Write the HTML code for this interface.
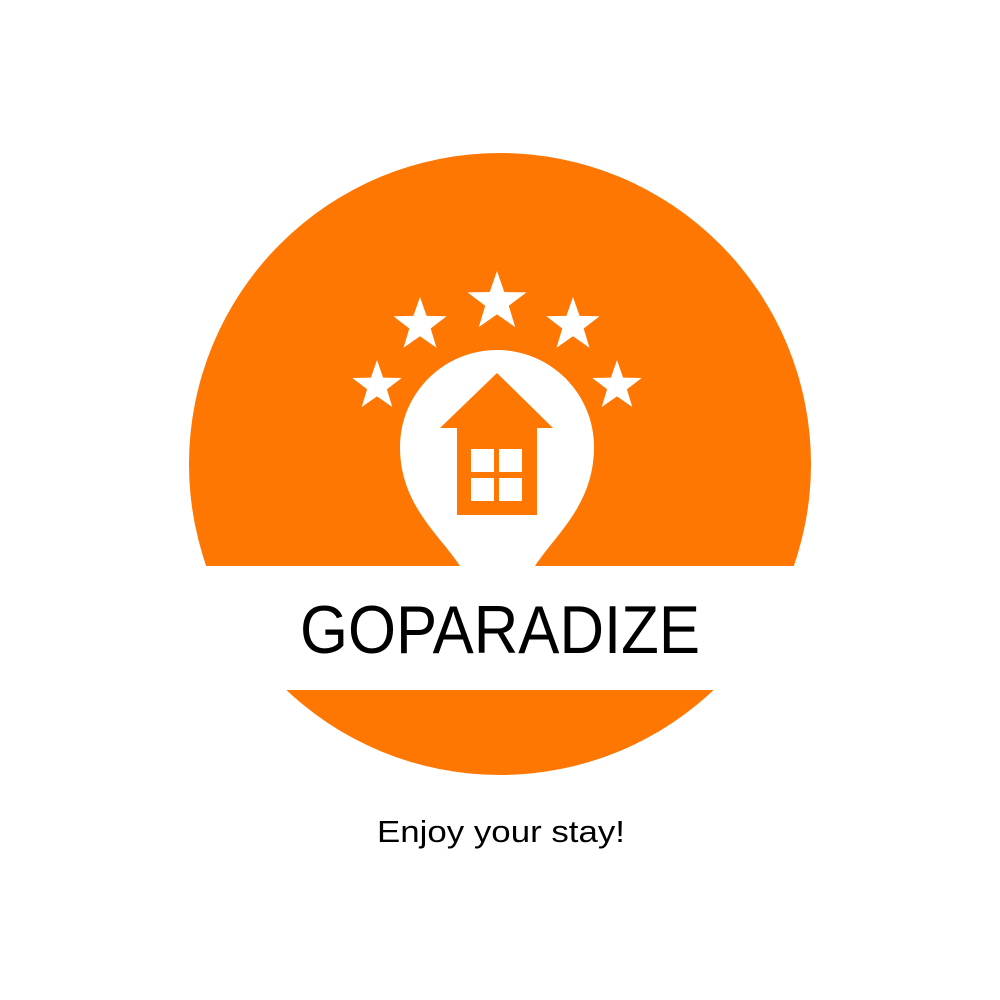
<!DOCTYPE html>
<html><head><meta charset="utf-8"><style>
html,body{margin:0;padding:0;background:#fff;}
svg{display:block;}
</style></head><body>
<svg width="1000" height="1000" viewBox="0 0 1000 1000">
<defs><clipPath id="c"><rect x="0" y="0" width="1000" height="566"/><rect x="0" y="690" width="1000" height="310"/></clipPath></defs>
<circle cx="500" cy="464" r="311" fill="#FD7702" clip-path="url(#c)"/>
<path d="M460,566 C440,535 400,505 400,447 A97,97 0 0 1 594,447 C594,505 555,535 535,566 Z" fill="#fff"/>
<polygon points="497,373 553,428 440,428" fill="#FD7702"/>
<rect x="457" y="428" width="80" height="87" fill="#FD7702"/>
<g fill="#fff">
<rect x="471" y="449" width="23" height="23"/><rect x="499" y="449" width="23" height="23"/>
<rect x="471" y="478" width="23" height="23"/><rect x="499" y="478" width="23" height="23"/>
</g>
<g fill="#fff" id="stars"></g>
<text x="500" y="653" text-anchor="middle" font-family="Liberation Sans, sans-serif" font-size="68" fill="#000" textLength="400" lengthAdjust="spacingAndGlyphs">GOPARADIZE</text>
<text x="501" y="842" text-anchor="middle" font-family="Liberation Sans, sans-serif" font-size="31" fill="#000" textLength="248" lengthAdjust="spacingAndGlyphs">Enjoy your stay!</text>
</svg>
<script>
const starX=[377,420,497,573,617];
const starY=[386,325,302,325,386];
const starR=[26,28,31,28,26];
const g=document.getElementById('stars');
for(let i=0;i<starX.length;i++){
  let pts=[];
  for(let k=0;k<10;k++){
    const r=k%2?starR[i]*0.4:starR[i];
    const a=-Math.PI/2+k*Math.PI/5;
    pts.push((starX[i]+r*Math.cos(a)).toFixed(1)+','+(starY[i]+r*Math.sin(a)).toFixed(1));
  }
  const p=document.createElementNS('http://www.w3.org/2000/svg','polygon');
  p.setAttribute('points',pts.join(' '));
  
  
  g.appendChild(p);
}
</script>
</body></html>
